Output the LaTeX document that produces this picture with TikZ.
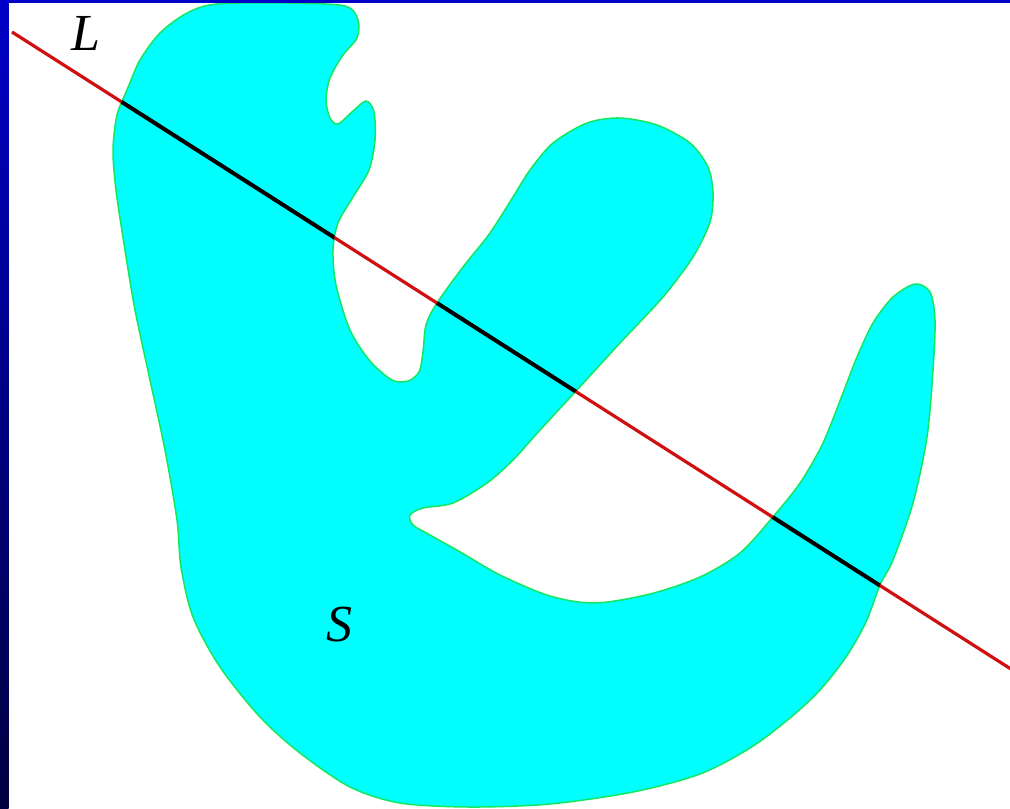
\documentclass[tikz,border=0pt]{standalone}
\usepackage{fontspec}
\setmainfont{Liberation Serif}
\usepackage{tikz}
\usetikzlibrary{calc}
\definecolor{frame}{HTML}{0000C8}
\definecolor{framedark}{HTML}{000040}
\definecolor{blob}{HTML}{00FFFF}
\definecolor{blobedge}{HTML}{10E860}
\definecolor{linered}{HTML}{D01010}
\def\blobpath{plot[smooth cycle,tension=0.5] coordinates {
  (217,4) (290,3) (345,6) (358,20) (357,38) (343,55) (330,78) (326,100)
  (330,118) (338,124) (352,112) (366,101) (374,112) (375,140) (369,170)
  (353,197) (338,223) (333,250) (336,285) (350,330) (370,361) (392,380)
  (408,381) (419,372) (423,352) (426,325) (437,303) (463,267) (490,233)
  (513,197) (530,170) (553,143) (587,123) (620,118) (657,125) (690,143)
  (708,167) (713,193) (710,222) (693,257) (663,297) (620,343) (577,390)
  (540,430) (513,460) (487,483) (453,503) (423,508) (410,515) (413,525)
  (430,535) (462,553) (500,575) (550,596) (595,603) (650,594) (700,577)
  (740,553) (772,518) (800,483) (823,443) (843,393) (857,357) (873,323)
  (893,297) (915,284) (930,292) (935,320) (933,370) (927,437) (913,503)
  (893,560) (880,585) (866,622) (846,657) (820,690) (790,718) (750,748)
  (700,774) (633,792) (550,804) (470,807) (400,803) (350,787) (300,753)
  (260,717) (220,667) (193,617) (181,567) (177,520) (165,450) (150,380)
  (135,310) (125,250) (116,190) (113,150) (117,115) (127,90) (140,60)
  (160,33) (187,13)}}
\begin{document}
\begin{tikzpicture}[x=1pt,y=-1pt,
  lab/.style={font=\itshape\fontsize{52}{60}\selectfont,text=black,inner sep=0pt},
  region/.style={fill=blob,draw=blobedge,line width=1.5pt},
  lineL/.style={linered,line width=3.2pt},
  chord/.style={black,line width=4pt}]
\useasboundingbox (0,0) rectangle (1010,809);
\fill[white] (0,0) rectangle (1010,809);
\path[region] \blobpath;
\coordinate (Lstart) at (12,32);
\coordinate (Lend) at (1014,671);
\draw[lineL] (Lstart) -- (Lend);
\begin{scope}
\clip \blobpath;
\draw[chord] (Lstart) -- (Lend);
\end{scope}
\node[lab] (lblL) at (86,33) {L};
\node[lab] (lblS) at (339,625) {S};
\shade[top color=frame,bottom color=framedark] (0,0) rectangle (8.5,809);
\fill[frame] (0,0) rectangle (1010,3);
\end{tikzpicture}
\end{document}
